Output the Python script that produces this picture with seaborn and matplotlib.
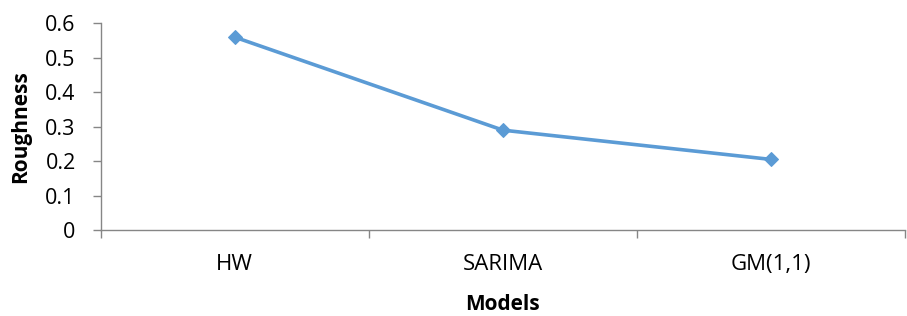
import matplotlib
matplotlib.use("Agg")
import matplotlib.pyplot as plt
import seaborn as sns
import pandas as pd

models = ["HW", "SARIMA", "GM(1,1)"]
roughness = [0.56, 0.29, 0.205]
yticks = [0, 0.1, 0.2, 0.3, 0.4, 0.5, 0.6]
ytick_labels = ["0", "0.1", "0.2", "0.3", "0.4", "0.5", "0.6"]

df = pd.DataFrame({"Models": models, "Roughness": roughness})

sns.set_style("white")
plt.rcParams["font.family"] = ["Open Sans", "DejaVu Sans"]
plt.rcParams["text.color"] = "black"
plt.rcParams["axes.labelcolor"] = "black"
plt.rcParams["xtick.color"] = "black"
plt.rcParams["ytick.color"] = "black"

fig = plt.figure(figsize=(9.07, 3.16), dpi=100)
ax = fig.add_axes([0.111, 0.272, 0.887, 0.654])

sns.lineplot(data=df, x="Models", y="Roughness", ax=ax, color="#5B9BD5",
             linewidth=2.6, marker="D", markersize=7, markeredgecolor="#5B9BD5")

ax.set_ylim(0, 0.6)
ax.set_yticks(yticks)
ax.set_yticklabels(ytick_labels, fontsize=15.5)
ax.set_xlim(-0.5, 2.5)
ax.set_xticks([0, 1, 2])
ax.set_xticklabels(models, fontsize=16)
ax.set_xticks([-0.5, 0.5, 1.5, 2.5], minor=True)
ax.tick_params(axis="x", which="major", bottom=False, length=0, pad=17)
ax.tick_params(axis="x", which="minor", bottom=True, length=6, color="#868686", width=1)
ax.tick_params(axis="y", left=True, length=6, color="#868686", width=1, pad=12)

for side in ["top", "right"]:
    ax.spines[side].set_visible(False)
for side in ["left", "bottom"]:
    ax.spines[side].set_color("#868686")
    ax.spines[side].set_linewidth(1)

ax.set_xlabel("Models", fontsize=15, fontweight="bold", labelpad=14)
ax.set_ylabel("Roughness", fontsize=15, fontweight="bold", labelpad=10)

fig.savefig("out.png", dpi=100)
